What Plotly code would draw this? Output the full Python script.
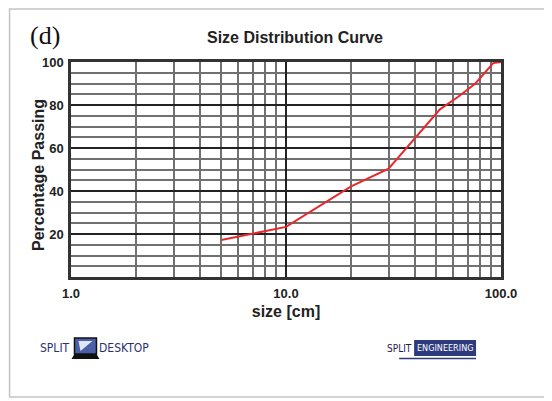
import plotly.graph_objects as go

# size distribution
size_cm = [5, 7, 10, 20, 30, 52, 63, 76, 92, 100]
pct_passing = [17.2, 20.3, 23.3, 42.0, 50.4, 78.0, 83.7, 90.0, 99.5, 100.0]

x_tickvals = [1, 10, 100]
x_ticktext = ["1.0", "10.0", "100.0"]
y_tickvals = [20, 40, 60, 80, 100]

# page body has an 8px margin, so the figure is drawn 8px in from the corner
OFF = 8
W, H = 552 - OFF, 401 - OFF
L, R, T, B = 62.5, 51, 54, 124
PW, PH = W - L - R, H - T - B


def px(x):
    # screen pixel -> paper x
    return (x - OFF - L) / PW


def py(y):
    # screen pixel -> paper y
    return (H - B - (y - OFF)) / PH


fig = go.Figure()
fig.add_trace(
    go.Scatter(
        x=size_cm,
        y=pct_passing,
        mode="lines",
        line=dict(color="#e8282d", width=2),
        showlegend=False,
        hoverinfo="skip",
    )
)

bold = dict(family="Liberation Sans, Arial", size=13, color="#222222", weight="bold")
navy = "#2b3170"
logo = "Liberation Sans Narrow, DejaVu Sans Condensed, Liberation Sans, sans-serif"

fig.update_layout(
    width=W,
    height=H,
    margin=dict(l=L, r=R, t=T, b=B),
    paper_bgcolor="white",
    plot_bgcolor="white",
    title=dict(
        text="Size Distribution Curve",
        x=(295 - OFF) / W,
        xanchor="center",
        y=1 - (37 - OFF) / H,
        yanchor="middle",
        font=dict(family="Liberation Sans, Arial", size=16, color="#222222", weight="bold"),
    ),
    xaxis=dict(
        type="log",
        range=[0, 2],
        tickvals=x_tickvals,
        ticktext=x_ticktext,
        tickfont=bold,
        ticks="outside",
        ticklen=3,
        tickcolor="white",
        showgrid=True,
        gridcolor="#222222",
        gridwidth=2,
        minor=dict(dtick="D1", showgrid=True, gridcolor="#707070", gridwidth=1.5),
        showline=True,
        mirror=True,
        linecolor="#333333",
        linewidth=2.5,
        zeroline=False,
        title=dict(
            text="size [cm]",
            font=dict(family="Liberation Sans, Arial", size=16, color="#222222", weight="bold"),
            standoff=6,
        ),
    ),
    yaxis=dict(
        range=[0, 100],
        tickvals=y_tickvals,
        tickfont=bold,
        ticks="outside",
        ticklen=2,
        tickcolor="white",
        showgrid=True,
        gridcolor="#222222",
        gridwidth=2,
        minor=dict(dtick=5, showgrid=True, gridcolor="#707070", gridwidth=1.5),
        showline=True,
        mirror=True,
        linecolor="#333333",
        linewidth=2.5,
        zeroline=False,
    ),
)

# y axis title placed by hand, as in the reference it sits close to the ticks
fig.add_annotation(
    text="Percentage Passing", xref="paper", yref="paper", x=px(37.5), y=py(175),
    xanchor="center", yanchor="middle", textangle=-90, showarrow=False,
    font=dict(family="Liberation Sans, Arial", size=16, color="#222222", weight="bold"),
)

# outer frame of the picture
fig.add_shape(
    type="rect", xref="paper", yref="paper",
    x0=px(9), x1=px(570), y0=py(397), y1=py(9),
    line=dict(color="#c4c4c4", width=1.5), fillcolor="rgba(0,0,0,0)", layer="below",
)

# panel label
fig.add_annotation(
    text="(d)", xref="paper", yref="paper", x=px(27), y=py(36),
    xanchor="left", yanchor="middle", showarrow=False,
    font=dict(family="Liberation Serif, Times New Roman", size=26, color="#111111"),
)

# SPLIT DESKTOP logo
logo_font = dict(family=logo, size=12, color=navy)
fig.add_annotation(text="SPLIT", xref="paper", yref="paper", x=px(72), y=py(348),
                   xanchor="right", yanchor="middle", showarrow=False, font=logo_font)
fig.add_annotation(text="DESKTOP", xref="paper", yref="paper", x=px(97), y=py(348),
                   xanchor="left", yanchor="middle", showarrow=False, font=logo_font)
fig.add_shape(type="rect", xref="paper", yref="paper",
              x0=px(74), x1=px(96), y0=py(354), y1=py(338),
              line=dict(color="#111111", width=1.5), fillcolor="#4a5fa8")
fig.add_shape(type="path", xref="paper", yref="paper",
              path=f"M {px(78)},{py(341)} L {px(92)},{py(341)} L {px(80)},{py(351)} Z",
              line=dict(width=0), fillcolor="#dfe6f3")
fig.add_shape(type="path", xref="paper", yref="paper",
              path=f"M {px(74)},{py(354)} L {px(96)},{py(354)} L {px(99)},{py(359)} L {px(71)},{py(359)} Z",
              line=dict(width=0), fillcolor="#111111")

# SPLIT ENGINEERING logo
fig.add_shape(type="rect", xref="paper", yref="paper",
              x0=px(414), x1=px(476), y0=py(356), y1=py(340),
              line=dict(width=0), fillcolor="#2e3a7e")
fig.add_shape(type="line", xref="paper", yref="paper",
              x0=px(399), x1=px(476), y0=py(358.5), y1=py(358.5),
              line=dict(color="#2e3a7e", width=1.5))
fig.add_annotation(text="SPLIT", xref="paper", yref="paper", x=px(413.5), y=py(348),
                   xanchor="right", yanchor="middle", showarrow=False,
                   font=dict(family=logo, size=10, color="#1d2050"))
fig.add_annotation(text="ENGINEERING", xref="paper", yref="paper", x=px(445), y=py(348),
                   xanchor="center", yanchor="middle", showarrow=False,
                   font=dict(family=logo, size=9, color="white"))

fig.write_html("out.html")
